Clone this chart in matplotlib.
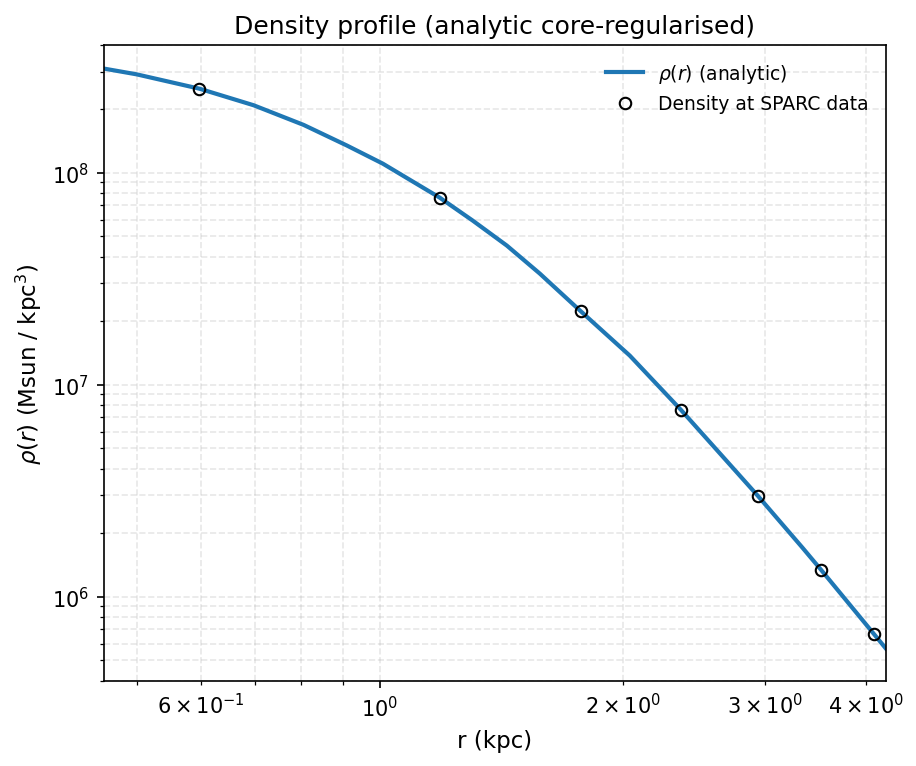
import matplotlib
matplotlib.use("Agg")
import matplotlib.pyplot as plt

# analytic curve
r_curve = [0.455, 0.500, 0.598, 0.698, 0.805, 0.910, 1.009, 1.187, 1.304, 1.437,
           1.579, 1.754, 2.041, 2.36, 2.94, 3.34, 3.52, 4.10, 4.236]
rho_curve = [3.10e8, 2.91e8, 2.49e8, 2.08e8, 1.68e8, 1.345e8, 1.103e8, 7.62e7, 5.94e7, 4.53e7,
             3.34e7, 2.31e7, 1.37e7, 7.62e6, 2.99e6, 1.70e6, 1.34e6, 6.62e5, 5.69e5]

# SPARC radii and density there
r_data = [0.598, 1.187, 1.775, 2.36, 2.94, 3.52, 4.10]
rho_data = [2.49e8, 7.62e7, 2.23e7, 7.62e6, 2.99e6, 1.34e6, 6.62e5]

fig, ax = plt.subplots(figsize=(6.113, 5.113), dpi=150)

ax.loglog(r_curve, rho_curve, color="#1f77b4", lw=2, label=r"$\rho(r)$ (analytic)")
ax.loglog(r_data, rho_data, "o", mfc="none", mec="black", ms=5.5, label="Density at SPARC data")

ax.set_xlim(min(r_curve), max(r_curve))
ax.set_ylim(4.0e5, 4.0e8)
ax.set_xlabel("r (kpc)", fontsize=11)
ax.set_ylabel(r"$\rho(r)$ (Msun / kpc$^3$)", fontsize=11)
ax.set_title("Density profile (analytic core-regularised)")
ax.grid(True, which="both", ls="--", alpha=0.3)
ax.legend(frameon=False, fontsize=9)

plt.subplots_adjust(left=0.113, right=0.966, top=0.940, bottom=0.111)
plt.savefig("out.png", dpi=150)
